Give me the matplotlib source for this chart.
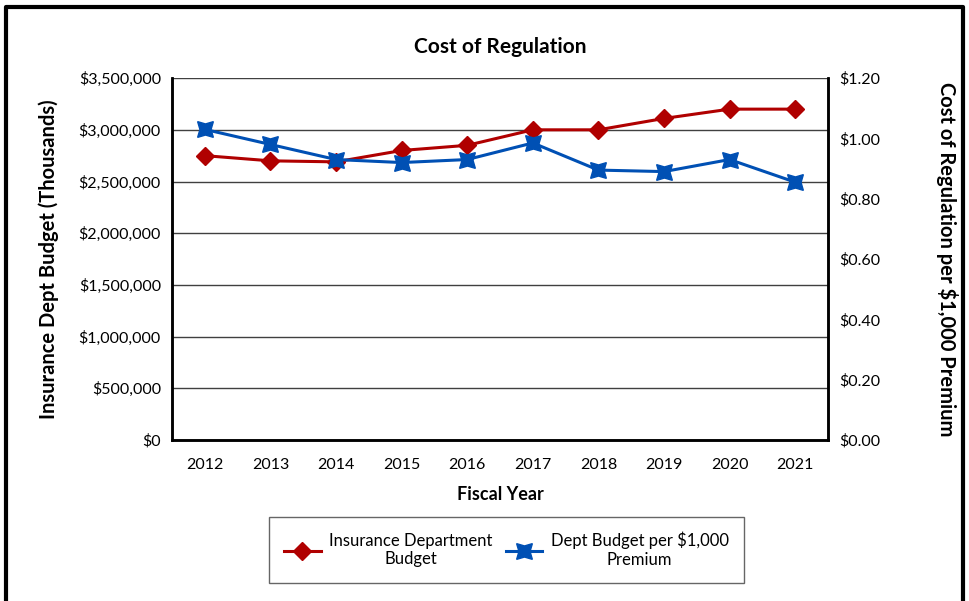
import matplotlib.pyplot as plt
from matplotlib.lines import Line2D
from matplotlib.ticker import FuncFormatter

plt.rcParams['font.family'] = ['Lato', 'DejaVu Sans']

# Data
years = ["2012", "2013", "2014", "2015", "2016", "2017", "2018", "2019", "2020", "2021"]
budget = [2750000, 2700000, 2690000, 2800000, 2850000, 3000000, 3000000, 3110000, 3200000, 3200000]
cost_per_1000 = [1.03, 0.98, 0.93, 0.92, 0.93, 0.985, 0.895, 0.89, 0.93, 0.855]

red = "#B00000"
blue = "#0050B4"

fig = plt.figure(figsize=(9.69, 6.01), dpi=100)
ax = fig.add_axes([0.1775, 0.268, 0.677, 0.602])
ax2 = ax.twinx()

x = list(range(len(years)))
l1, = ax.plot(x, budget, color=red, lw=2.2, marker="D", markersize=9,
              label="Insurance Department\nBudget", zorder=3)
l2, = ax2.plot(x, cost_per_1000, color=blue, lw=2.2, marker=(4, 1, 45), markersize=16,
               label="Dept Budget per $1,000\nPremium", zorder=3)

ax.set_xlim(-0.5, 9.5)
ax.set_ylim(0, 3500000)
ax.set_yticks(range(0, 3500001, 500000))
ax.yaxis.set_major_formatter(FuncFormatter(lambda v, p: "${:,.0f}".format(v)))
ax2.set_ylim(0, 1.2)
ax2.set_yticks([0, 0.2, 0.4, 0.6, 0.8, 1.0, 1.2])
ax2.yaxis.set_major_formatter(FuncFormatter(lambda v, p: "${:.2f}".format(v)))

ax.set_xticks(x)
ax.set_xticklabels(years)
ax.grid(axis="y", color="#404040", lw=1)
ax.set_axisbelow(True)

for a in (ax, ax2):
    a.tick_params(labelsize=11.5, length=0, pad=8)
    for s in a.spines.values():
        s.set_linewidth(1.8)
        s.set_color("black")
    a.spines["top"].set_visible(False)
ax.tick_params(axis="x", pad=13)

ax.set_title("Cost of Regulation", fontsize=15, fontweight="bold", pad=18)
ax.set_xlabel("Fiscal Year", fontsize=13, fontweight="bold", labelpad=10)
ax.set_ylabel("Insurance Dept Budget (Thousands)", fontsize=14.5, fontweight="bold", labelpad=14)
ax2.set_ylabel("Cost of Regulation per $1,000 Premium", fontsize=14.5, fontweight="bold",
               rotation=270, labelpad=56)

leg = fig.legend(handles=[l1, l2], loc="center", bbox_to_anchor=(0.5225, 0.085),
                 ncol=2, fontsize=12, frameon=True, fancybox=False, edgecolor="#404040",
                 handlelength=2.2, handletextpad=0.5, columnspacing=0.8, borderpad=0.9)
leg.get_frame().set_linewidth(1)
for t in leg.get_texts():
    t.set_multialignment("center")

# outer chart border (bottom edge is cut off in the original)
fig.add_artist(Line2D([0.006, 0.006, 0.994, 0.994], [0.0, 0.988, 0.988, 0.0],
                      transform=fig.transFigure, color="black", lw=3))

fig.savefig("out.png", dpi=100)
